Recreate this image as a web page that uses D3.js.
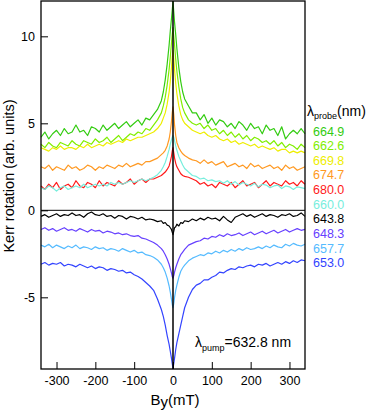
<!DOCTYPE html>
<html><head><meta charset="utf-8">
<script src="https://cdn.jsdelivr.net/npm/d3@7"></script>
<style>
body{margin:0;background:#fff}
svg{display:block}
text{font-family:"Liberation Sans",Arial,Helvetica,sans-serif}
</style>
</head><body>
<svg id="chart" width="374" height="412"></svg>
<script>
// ---- data ----
const field = [-340,-330,-320,-310,-300,-290,-280,-270,-260,-250,-240,-230,-220,-210,-200,-190,-180,-170,-160,-150,-140,-130,-120,-110,-100,-90,-80,-70,-60,
 -50,-40,-30,-25,-20,-15,-10,-7,-4,-2,0,2,4,7,10,15,20,25,30,40,50,
 60,70,80,90,100,110,120,130,140,150,160,170,180,190,200,210,220,230,240,250,260,270,280,290,300,310,320,330,340];

const k664_9 = [4.2,4.5,4.1,4.4,4.6,4.3,4.7,4.4,4.5,4.9,4.5,4.6,4.3,4.8,4.7,4.5,4.9,4.6,4.8,5.0,4.7,4.9,5.1,4.8,5.0,5.2,4.9,5.3,5.2,
 5.5,5.8,6.3,6.8,7.5,8.4,9.5,10.3,11.0,11.5,12.0,11.4,10.8,10.1,9.3,8.2,7.4,6.8,6.4,6.0,5.6,
 5.6,5.2,5.5,5.0,5.3,4.9,5.2,5.1,4.8,5.0,4.7,5.1,4.9,4.6,5.0,4.7,4.8,4.4,4.9,4.6,4.7,4.3,4.8,4.1,4.4,4.6,4.4,4.7,4.4];
const k662_6 = [3.8,3.6,3.9,3.7,3.6,3.9,3.8,3.7,4.0,3.8,3.7,4.0,3.9,3.8,4.1,3.9,4.0,4.2,3.9,4.1,4.3,4.0,4.2,4.4,4.3,4.5,4.4,4.7,4.6,
 4.9,5.2,5.6,6.0,6.5,7.2,8.1,8.8,9.6,10.1,10.5,10.0,9.5,8.7,8.0,7.1,6.4,5.9,5.6,5.2,5.0,
 4.9,5.0,4.7,4.9,4.6,4.7,4.4,4.6,4.3,4.5,4.2,4.4,4.1,4.3,4.0,4.2,4.1,3.9,4.0,3.8,4.0,3.7,3.9,3.6,3.8,3.7,3.5,3.8,3.6];
const k669_8 = [3.6,3.5,3.4,3.6,3.5,3.7,3.5,3.6,3.6,3.5,3.7,3.6,3.8,3.6,3.7,3.8,3.7,3.9,3.8,3.9,4.0,3.9,4.1,4.0,4.1,4.2,4.2,4.3,4.4,
 4.5,4.7,5.0,5.3,5.6,6.1,6.8,7.4,8.2,8.8,9.2,8.7,8.1,7.3,6.7,6.0,5.5,5.2,5.0,4.8,4.6,
 4.5,4.4,4.5,4.3,4.2,4.3,4.1,4.0,4.1,3.9,4.0,3.8,3.9,3.8,3.7,3.8,3.6,3.7,3.6,3.5,3.6,3.4,3.5,3.5,3.3,3.4,3.3,3.4,3.3];
const k674_7 = [2.5,2.4,2.6,2.3,2.5,2.4,2.3,2.6,2.4,2.5,2.3,2.4,2.6,2.5,2.3,2.5,2.4,2.6,2.5,2.4,2.6,2.5,2.7,2.5,2.6,2.7,2.6,2.8,2.8,
 2.9,3.0,3.2,3.3,3.45,3.7,4.1,4.5,5.1,5.6,5.95,5.5,4.9,4.3,3.9,3.6,3.4,3.25,3.15,3.0,2.9,
 2.85,2.7,2.9,2.7,2.8,2.6,2.7,2.8,2.5,2.6,2.7,2.5,2.6,2.4,2.7,2.5,2.6,2.4,2.5,2.6,2.4,2.5,2.3,2.6,2.4,2.5,2.3,2.4,2.5];
const k680_0 = [1.4,1.2,1.5,1.3,1.6,1.2,1.4,1.5,1.3,1.7,1.4,1.3,1.6,1.5,1.3,1.7,1.4,1.6,1.5,1.4,1.7,1.5,1.6,1.8,1.5,1.7,1.8,1.6,1.8,
 1.8,1.9,2.0,2.1,2.2,2.35,2.55,2.8,3.1,3.4,3.6,3.3,3.0,2.7,2.5,2.3,2.1,2.0,1.95,1.9,1.8,
 1.7,1.5,1.6,1.4,1.5,1.3,1.6,1.5,1.4,1.6,1.3,1.5,1.7,1.4,1.5,1.6,1.3,1.5,1.7,1.4,1.6,1.5,1.4,1.7,1.5,1.6,1.4,1.7,1.5];
const k660_0 = [1.3,1.2,1.4,1.3,1.1,1.3,1.4,1.2,1.3,1.4,1.3,1.5,1.3,1.4,1.5,1.4,1.5,1.4,1.6,1.5,1.6,1.5,1.6,1.7,1.6,1.7,1.8,1.7,1.8,
 1.9,2.05,2.3,2.5,2.75,3.1,3.5,3.8,4.05,4.2,4.3,4.2,4.0,3.7,3.45,3.1,2.85,2.6,2.4,2.2,2.0,
 1.95,1.8,1.85,1.7,1.75,1.65,1.7,1.55,1.7,1.5,1.65,1.45,1.6,1.5,1.4,1.55,1.35,1.5,1.45,1.3,1.4,1.45,1.25,1.4,1.35,1.2,1.35,1.3,1.25];
const k643_8 = [-0.35,-0.25,-0.4,-0.3,-0.2,-0.35,-0.25,-0.3,-0.15,-0.3,-0.25,-0.4,-0.2,-0.1,-0.25,-0.3,-0.2,-0.35,-0.3,-0.45,-0.3,-0.35,-0.5,-0.35,-0.4,-0.5,-0.4,-0.55,-0.5,
 -0.55,-0.65,-0.6,-0.75,-0.7,-0.85,-0.9,-1.0,-1.1,-1.25,-1.4,-1.2,-1.0,-0.95,-0.8,-0.9,-0.7,-0.75,-0.6,-0.65,-0.5,
 -0.6,-0.45,-0.55,-0.4,-0.5,-0.45,-0.6,-0.35,-0.55,-0.7,-0.4,-0.3,-0.2,-0.35,-0.25,-0.4,-0.3,-0.2,-0.35,-0.25,-0.3,-0.4,-0.25,-0.3,-0.2,-0.35,-0.3,-0.15,-0.35];
const k648_3 = [-1.1,-1.0,-1.15,-1.05,-1.2,-1.1,-1.0,-1.15,-1.1,-1.2,-1.05,-1.15,-1.25,-1.1,-1.2,-1.15,-1.3,-1.2,-1.25,-1.35,-1.3,-1.4,-1.35,-1.45,-1.5,-1.45,-1.6,-1.65,-1.75,
 -1.85,-2.0,-2.2,-2.35,-2.55,-2.8,-3.1,-3.35,-3.6,-3.8,-3.9,-3.75,-3.55,-3.3,-3.1,-2.8,-2.55,-2.4,-2.25,-2.0,-1.9,
 -1.8,-1.75,-1.6,-1.65,-1.5,-1.55,-1.4,-1.5,-1.35,-1.45,-1.4,-1.3,-1.45,-1.35,-1.25,-1.4,-1.3,-1.2,-1.35,-1.25,-1.15,-1.3,-1.2,-1.1,-1.25,-1.15,-1.05,-1.15,-1.1];
const k657_7 = [-2.0,-2.1,-1.95,-2.15,-2.0,-2.1,-2.2,-2.05,-2.15,-2.0,-2.2,-2.1,-2.15,-2.25,-2.1,-2.2,-2.15,-2.3,-2.2,-2.25,-2.35,-2.2,-2.3,-2.4,-2.3,-2.45,-2.4,-2.55,-2.6,
 -2.7,-2.85,-3.1,-3.3,-3.55,-3.9,-4.35,-4.7,-5.1,-5.4,-5.6,-5.35,-5.0,-4.6,-4.3,-3.85,-3.5,-3.3,-3.15,-2.9,-2.75,
 -2.65,-2.55,-2.6,-2.45,-2.5,-2.35,-2.45,-2.3,-2.4,-2.25,-2.35,-2.2,-2.3,-2.15,-2.25,-2.2,-2.1,-2.2,-2.05,-2.15,-2.0,-2.1,-2.15,-1.95,-2.05,-1.9,-2.0,-2.05,-1.95];
const k653_0 = [-3.1,-3.0,-3.15,-3.05,-3.1,-3.0,-3.2,-3.1,-3.15,-3.25,-3.1,-3.2,-3.3,-3.2,-3.35,-3.25,-3.3,-3.45,-3.35,-3.4,-3.5,-3.45,-3.6,-3.55,-3.7,-3.8,-3.95,-4.15,-4.35,
 -4.6,-5.1,-5.7,-6.1,-6.6,-7.2,-7.7,-8.1,-8.5,-8.8,-9.1,-8.8,-8.5,-8.0,-7.6,-7.1,-6.6,-6.1,-5.6,-5.0,-4.55,
 -4.3,-4.2,-4.0,-4.0,-3.85,-3.75,-3.55,-3.6,-3.45,-3.35,-3.4,-3.25,-3.3,-3.2,-3.15,-3.25,-3.1,-3.15,-3.05,-3.2,-3.1,-3.0,-3.1,-2.95,-3.05,-2.9,-3.0,-2.85,-2.9];

const probeLabels = ["664.9","662.6","669.8","674.7","680.0","660.0","643.8","648.3","657.7","653.0"];
const probeColors = ["#33cc11","#80ee00","#eeee00","#ff9922","#ff1a1a","#77eedd","#000000","#6640ff","#55bbff","#3344ff"];
const seriesValues = [k664_9,k662_6,k669_8,k674_7,k680_0,k660_0,k643_8,k648_3,k657_7,k653_0];
const xTicks = [-300,-200,-100,0,100,200,300];
const yTicks = [-5,0,5,10];

// ---- drawing ----
const svg = d3.select("#chart");
const L = 41, R = 305, T = 1, B = 369;
const x = d3.scaleLinear().domain([-340,340]).range([L,R]);
const y = d3.scaleLinear().domain([-9.12,12.03]).range([B,T]);

const line = d3.line().x((d,i)=>x(field[i])).y(d=>y(d));

const g = svg.append("g");
seriesValues.forEach((vals,i)=>{
  g.append("path").datum(vals).attr("d",line)
    .attr("fill","none").attr("stroke",probeColors[i])
    .attr("stroke-width",1.2).attr("stroke-linejoin","round");
});

// zero lines
svg.append("line").attr("x1",L).attr("x2",R).attr("y1",y(0)).attr("y2",y(0))
  .attr("stroke","#000").attr("stroke-width",1);
svg.append("line").attr("x1",x(0)).attr("x2",x(0)).attr("y1",T).attr("y2",B)
  .attr("stroke","#000").attr("stroke-width",1.5);

// axes (ticks inward)
const xAxis = d3.axisBottom(x).tickValues(xTicks).tickSize(-7).tickPadding(7).tickFormat(d3.format("d"));
const gx = svg.append("g").attr("transform",`translate(0,${B})`).call(xAxis);
gx.select(".domain").remove();
gx.selectAll("line").attr("stroke","#000").attr("stroke-width",1);
gx.selectAll("text").attr("font-size",12.5).attr("fill","#000")
  .attr("font-family","'Liberation Sans',Arial,sans-serif")
  .text(d=> d<0 ? "-"+Math.abs(d) : String(d));

const yAxis = d3.axisLeft(y).tickValues(yTicks).tickSize(-7).tickPadding(6);
const gy = svg.append("g").attr("transform",`translate(${L},0)`).call(yAxis);
gy.select(".domain").remove();
gy.selectAll("line").attr("stroke","#000").attr("stroke-width",1);
gy.selectAll("text").attr("font-size",12.5).attr("fill","#000")
  .attr("font-family","'Liberation Sans',Arial,sans-serif")
  .text(d=> d<0 ? "-"+Math.abs(d) : String(d));

// frame
svg.append("rect").attr("x",L).attr("y",T).attr("width",R-L).attr("height",B-T)
  .attr("fill","none").attr("stroke","#000").attr("stroke-width",1.3);

// axis titles
const xt = svg.append("text").attr("x",175).attr("y",405).attr("text-anchor","middle")
  .attr("font-size",15);
xt.append("tspan").text("B");
xt.append("tspan").attr("dy",2).text("y");
xt.append("tspan").attr("dy",-2).text("(mT)");

svg.append("text").attr("transform","translate(14,176) rotate(-90)")
  .attr("text-anchor","middle").attr("font-size",14.5).text("Kerr rotation (arb. units)");

// legend
const lt = svg.append("text").attr("x",307).attr("y",116).attr("font-size",14);
lt.append("tspan").text("λ");
lt.append("tspan").attr("font-size",9).attr("dy",3).text("probe");
lt.append("tspan").attr("dy",-3).text("(nm)");

probeLabels.forEach((lab,i)=>{
  svg.append("text").attr("x",313).attr("y",135.5+i*14.65)
    .attr("font-size",12.5).attr("fill",probeColors[i]).text(lab);
});

// pump annotation
const pt = svg.append("text").attr("x",195).attr("y",347).attr("font-size",14);
pt.append("tspan").text("λ");
pt.append("tspan").attr("font-size",9).attr("dy",4).text("pump");
pt.append("tspan").attr("dy",-4).text("=632.8 nm");
</script>
</body></html>
